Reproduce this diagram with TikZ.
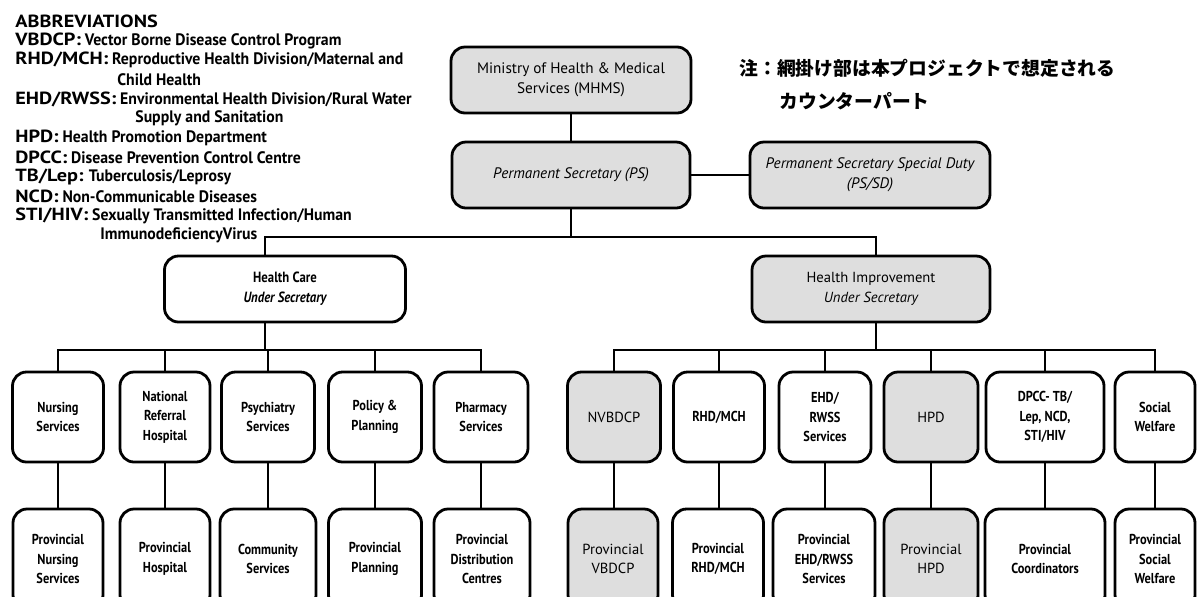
\documentclass[tikz,border=0pt]{standalone}
\usepackage{fontspec}
\setmainfont{PT Sans}
\newfontfamily\narrowfont[FakeStretch=0.86]{PT Sans}
\newfontfamily\descfont[FakeStretch=0.95]{PT Sans}
\newfontfamily\widefont[FakeStretch=1.15]{PT Sans}
\newfontfamily\jpfont{Noto Sans CJK JP}
\newcommand{\abkey}[1]{{\widefont\bfseries\fontsize{8.8}{9}\selectfont #1}}

\begin{document}
\begin{tikzpicture}[
  x=0.5pt,y=-0.5pt,
  box/.style={draw=black,line width=1.4pt,rounded corners=7pt,align=center,inner sep=1pt,fill=white},
  shaded/.style={fill=black!13,font=\fontsize{7.3}{9.8}\selectfont},
  top/.style={box,shaded,minimum width=#1,minimum height=33pt,font=\fontsize{7.6}{10}\selectfont},
  unit/.style={box,minimum width=#1,minimum height=45pt,font=\narrowfont\bfseries\fontsize{7.2}{9.7}\selectfont},
  prov/.style={unit=#1,minimum height=50pt},
  link/.style={line width=1.4pt,draw=black},
  abbr/.style={anchor=west,inner sep=0pt,font=\descfont\bfseries\fontsize{8.3}{9}\selectfont},
  note/.style={anchor=west,inner sep=0pt,font=\jpfont\bfseries\fontsize{9.4}{11}\selectfont}
]
\useasboundingbox (0,0) rectangle (1197,596);
\fill[white] (0,0) rectangle (1197,596);
\clip (0,0) rectangle (1197,596);

% ---------- abbreviations ----------
\node[abbr] (ab0)  at (15,21)  {\abkey{ABBREVIATIONS}};
\node[abbr] (ab1)  at (15,41)  {\abkey{VBDCP:} Vector Borne Disease Control Program};
\node[abbr] (ab2)  at (15,60)  {\abkey{RHD/MCH:} Reproductive Health Division/Maternal and};
\node[abbr] (ab3)  at (117,80) {Child Health};
\node[abbr] (ab4)  at (15,99)  {\abkey{EHD/RWSS:} Environmental Health Division/Rural Water};
\node[abbr] (ab5)  at (135,118) {Supply and Sanitation};
\node[abbr] (ab6)  at (15,138) {\abkey{HPD:} Health Promotion Department};
\node[abbr] (ab7)  at (15,157) {\abkey{DPCC:} Disease Prevention Control Centre};
\node[abbr] (ab8)  at (15,177) {\abkey{TB/Lep:} Tuberculosis/Leprosy};
\node[abbr] (ab9)  at (15,196) {\abkey{NCD:} Non-Communicable Diseases};
\node[abbr] (ab10) at (15,216) {\abkey{STI/HIV:} Sexually Transmitted Infection/Human};
\node[abbr] (ab11) at (100,235) {ImmunodeficiencyVirus};

% ---------- note ----------
\node[note] (note1) at (739,68)  {注：網掛け部は本プロジェクトで想定される};
\node[note] (note2) at (779,101) {カウンターパート};

% ---------- ministry level ----------
\node[top=120pt] (mhms) at (571,80)  {Ministry of Health \& Medical\\Services (MHMS)};
\node[top=119pt] (ps)   at (571,175) {\itshape Permanent Secretary (PS)};
\node[top=120pt] (pssd) at (870,175) {\itshape Permanent Secretary Special Duty\\\itshape (PS/SD)};

\node[box,minimum width=120.5pt,minimum height=33pt,font=\narrowfont\bfseries\fontsize{7.4}{9.8}\selectfont]
  (hc) at (285,289) {Health Care\\\itshape Under Secretary};
\node[top=119pt,font=\fontsize{7.3}{9.8}\selectfont] (hi) at (871,289) {Health Improvement\\\itshape Under Secretary};

% ---------- divisions ----------
\node[unit=45.5pt] (nurs) at (58,417)  {Nursing\\Services};
\node[unit=45pt]   (nrh)  at (165,417) {National\\Referral\\Hospital};
\node[unit=46.5pt] (psy)  at (268,417) {Psychiatry\\Services};
\node[unit=46.5pt] (pol)  at (375,417) {Policy \&\\Planning};
\node[unit=47pt]   (pha)  at (481,417) {Pharmacy\\Services};

\node[unit=46.5pt,shaded] (nvb)  at (614,417)  {NVBDCP};
\node[unit=45.5pt]        (rhd)  at (719,417)  {RHD/MCH};
\node[unit=46pt]          (ehd)  at (825,417)  {EHD/\\RWSS\\Services};
\node[unit=47pt,shaded]   (hpd)  at (931,417)  {HPD};
\node[unit=59pt]          (dpcc) at (1045,417) {DPCC- TB/\\Lep, NCD,\\STI/HIV};
\node[unit=40pt]          (sw)   at (1155,417) {Social\\Welfare};

% ---------- provincial ----------
\node[prov=45pt]   (pnurs) at (58,559)  {Provincial\\Nursing\\Services};
\node[prov=45pt]   (phos)  at (165,559) {Provincial\\Hospital};
\node[prov=48pt]   (com)   at (268,559) {Community\\Services};
\node[prov=46.5pt] (pplan) at (375,559) {Provincial\\Planning};
\node[prov=48pt]   (pdist) at (482,559) {Provincial\\Distribution\\Centres};

\node[prov=45pt,shaded]   (pnvb)   at (613,559)  {Provincial\\VBDCP};
\node[prov=45.5pt]        (prhd)   at (718,559)  {Provincial\\RHD/MCH};
\node[prov=51pt]          (pehd)   at (824,559)  {Provincial\\EHD/RWSS\\Services};
\node[prov=47pt,shaded]   (phpd)   at (931,559)  {Provincial\\HPD};
\node[prov=60pt]          (pcoord) at (1045,559) {Provincial\\Coordinators};
\node[prov=40pt]          (psw)    at (1155,559) {Provincial\\Social\\Welfare};

% ---------- connectors ----------
\coordinate (topbus) at (571,237);
\coordinate (hcbus)  at (265,350);
\coordinate (hibus)  at (876,350);

\draw[link] (mhms) -- (ps);
\draw[link] (ps) -- (pssd);
\draw[link] (ps) -- (topbus);
\draw[link] (hc.north -| hcbus) |- (topbus) -| (hi.north -| hibus);
\draw[link] (hc.south -| hcbus) -- (hcbus);
\draw[link] (hi.south -| hibus) -- (hibus);

\foreach \n in {nurs,nrh,psy,pol,pha}
  \draw[link] (\n.north) |- (hcbus);
\foreach \n in {nvb,rhd,ehd,hpd,dpcc,sw}
  \draw[link] (\n.north) |- (hibus);

\foreach \a/\b in {nurs/pnurs,nrh/phos,psy/com,pol/pplan,pha/pdist,
                   nvb/pnvb,rhd/prhd,ehd/pehd,hpd/phpd,dpcc/pcoord,sw/psw}
  \draw[link] (\a.south) -- (\a.south |- \b.north);
\end{tikzpicture}
\end{document}
